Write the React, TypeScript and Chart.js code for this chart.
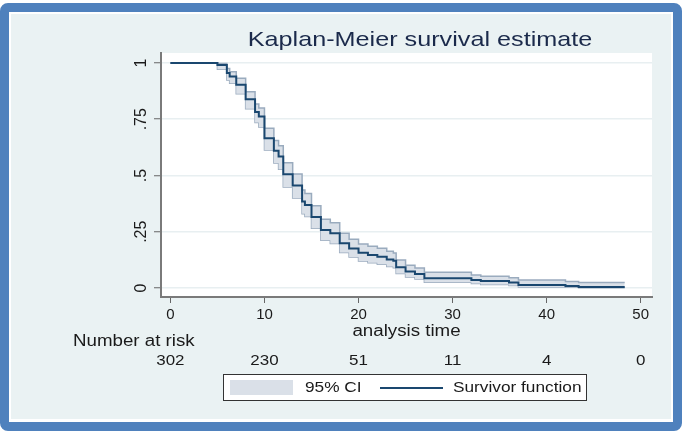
import React, { useEffect, useRef } from "react";
import { Chart, registerables } from "chart.js";

Chart.register(...registerables);

// ---- data ----
const times = [0, 5, 6, 6.3, 7, 8, 9, 9.4, 10, 11, 11.5, 12, 13, 14, 14.3, 15, 16, 17, 18, 19, 20, 21, 22, 23, 23.7, 24, 25, 26, 27, 32, 33, 36, 37, 42, 43.4, 48.3];
const survival = [1, 0.991, 0.955, 0.94, 0.903, 0.839, 0.782, 0.762, 0.665, 0.61, 0.584, 0.505, 0.455, 0.384, 0.369, 0.315, 0.258, 0.243, 0.199, 0.176, 0.157, 0.147, 0.139, 0.127, 0.121, 0.092, 0.073, 0.062, 0.043, 0.036, 0.031, 0.024, 0.013, 0.009, 0.004, 0.004];
const lowerCI = [1, 0.972, 0.924, 0.91, 0.863, 0.797, 0.735, 0.716, 0.613, 0.556, 0.528, 0.449, 0.4, 0.33, 0.318, 0.265, 0.212, 0.198, 0.158, 0.138, 0.12, 0.112, 0.105, 0.095, 0.09, 0.064, 0.049, 0.04, 0.025, 0.02, 0.016, 0.011, 0.004, 0.003, 0.001, 0.001];
const upperCI = [1, 0.998, 0.975, 0.961, 0.932, 0.872, 0.818, 0.8, 0.71, 0.655, 0.632, 0.557, 0.507, 0.435, 0.42, 0.365, 0.305, 0.29, 0.243, 0.217, 0.196, 0.186, 0.177, 0.163, 0.156, 0.124, 0.101, 0.089, 0.07, 0.058, 0.052, 0.045, 0.036, 0.029, 0.024, 0.024];

const xTicks = [0, 10, 20, 30, 40, 50];
const yTicks = [0, 0.25, 0.5, 0.75, 1];
const yTickLabels = ["0", ".25", ".5", ".75", "1"];
const atRisk = [302, 230, 51, 11, 4, 0];

const titleText = "Kaplan-Meier survival estimate";
const xTitle = "analysis time";
const riskTitle = "Number at risk";
const legendCI = "95% CI";
const legendSurv = "Survivor function";

const FONT = "'Liberation Sans', Arial, Helvetica, sans-serif";
const NAVY = "#1a476f";
const BAND_FILL = "#dae0e8";
const BAND_EDGE = "#9aabbe";

function stretchedText(
  ctx: CanvasRenderingContext2D,
  text: string,
  x: number,
  y: number,
  size: number,
  color: string,
  align: CanvasTextAlign,
  sx: number
) {
  ctx.save();
  ctx.translate(x, y);
  ctx.scale(sx, 1);
  ctx.font = `${size}px ${FONT}`;
  ctx.fillStyle = color;
  ctx.textAlign = align;
  ctx.textBaseline = "middle";
  ctx.fillText(text, 0, 0);
  ctx.restore();
}

const decorPlugin = {
  id: "kmDecor",
  beforeDraw(chart: any) {
    const { ctx, chartArea } = chart;
    ctx.save();
    ctx.fillStyle = "#ffffff";
    ctx.fillRect(chartArea.left, chartArea.top, chartArea.right - chartArea.left, chartArea.bottom - chartArea.top);
    ctx.restore();
  },
  afterDraw(chart: any) {
    const { ctx, chartArea } = chart;
    const xs = chart.scales.x;
    // title
    stretchedText(ctx, titleText, 420, 40, 21, "#1b2a4b", "center", 1.2);
    // x title
    stretchedText(ctx, xTitle, (chartArea.left + chartArea.right) / 2, 332, 16, "#1a1a1a", "center", 1.17);
    // number at risk
    stretchedText(ctx, riskTitle, 73, 342, 16, "#1a1a1a", "left", 1.17);
    atRisk.forEach((n, i) => {
      stretchedText(ctx, String(n), xs.getPixelForValue(xTicks[i]), 361, 15, "#1a1a1a", "center", 1.13);
    });
    // legend
    ctx.save();
    ctx.fillStyle = "#ffffff";
    ctx.fillRect(223.5, 374.5, 363, 26);
    ctx.strokeStyle = "#333333";
    ctx.lineWidth = 1;
    ctx.strokeRect(223.5, 374.5, 363, 26);
    ctx.fillStyle = BAND_FILL;
    ctx.fillRect(230, 380, 63, 15);
    ctx.strokeStyle = NAVY;
    ctx.lineWidth = 2;
    ctx.beginPath();
    ctx.moveTo(380, 388);
    ctx.lineTo(443, 388);
    ctx.stroke();
    ctx.restore();
    stretchedText(ctx, legendCI, 305, 388, 15, "#1a1a1a", "left", 1.15);
    stretchedText(ctx, legendSurv, 453, 388, 15, "#1a1a1a", "left", 1.15);
  },
};

export default function App() {
  const canvasRef = useRef<HTMLCanvasElement | null>(null);

  useEffect(() => {
    const canvas = canvasRef.current;
    if (!canvas) return;
    const pts = (vals: number[]) => times.map((t, i) => ({ x: t, y: vals[i] }));
    const chart = new Chart(canvas, {
      type: "line",
      data: {
        datasets: [
          {
            label: "Survivor function",
            data: pts(survival),
            borderColor: NAVY,
            borderWidth: 2,
            pointRadius: 0,
            stepped: "before",
            fill: false,
            order: 0,
          },
          {
            label: "Upper",
            data: pts(upperCI),
            borderColor: BAND_EDGE,
            backgroundColor: BAND_FILL,
            borderWidth: 1.5,
            pointRadius: 0,
            stepped: "before",
            fill: "+1",
            order: 1,
          },
          {
            label: "Lower",
            data: pts(lowerCI),
            borderColor: BAND_EDGE,
            borderWidth: 1.5,
            pointRadius: 0,
            stepped: "before",
            fill: false,
            order: 2,
          },
        ],
      },
      options: {
        responsive: false,
        animation: false,
        devicePixelRatio: 1,
        layout: { padding: { left: 0, right: 33, top: 53, bottom: 0 } },
        plugins: {
          legend: { display: false },
          title: { display: false },
          tooltip: { enabled: false },
        },
        scales: {
          x: {
            type: "linear",
            min: -1,
            max: 51.2,
            afterBuildTicks: (s: any) => {
              s.ticks = xTicks.map((v) => ({ value: v }));
            },
            afterFit: (s: any) => {
              s.height = 431 - 297;
            },
            grid: {
              drawOnChartArea: false,
              drawTicks: true,
              tickLength: 6,
              tickColor: "#666666",
              tickWidth: 1,
            },
            border: { color: "#7a7a7a", width: 2 },
            ticks: {
              maxRotation: 0,
              minRotation: 0,
              padding: 3,
              color: "#1a1a1a",
              font: { family: FONT, size: 15 },
              callback: (v: any) => String(v),
            },
          },
          y: {
            type: "linear",
            min: -0.04,
            max: 1.0444,
            afterBuildTicks: (s: any) => {
              s.ticks = yTicks.map((v) => ({ value: v }));
            },
            afterFit: (s: any) => {
              s.width = 161;
            },
            grid: {
              color: "#e8eff1",
              lineWidth: 1.5,
              drawTicks: true,
              tickLength: 7,
              tickColor: "#666666",
              tickWidth: 1,
            },
            border: { color: "#7a7a7a", width: 2 },
            ticks: {
              minRotation: 90,
              maxRotation: 90,
              crossAlign: "center",
              padding: 1,
              color: "#1a1a1a",
              font: { family: FONT, size: 16 },
              callback: (v: any) => {
                const i = yTicks.indexOf(Number(v));
                return i >= 0 ? yTickLabels[i] : "";
              },
            },
          },
        },
      },
      plugins: [decorPlugin],
    });
    return () => chart.destroy();
  }, []);

  return (
    <div style={{ position: "fixed", left: 0, top: 0, width: 685, height: 431, background: "#ffffff", overflow: "hidden" }}>
      <div
        style={{
          position: "absolute",
          left: 0,
          top: 3,
          width: 682,
          height: 428,
          boxSizing: "border-box",
          border: "9px solid #4f81bd",
          borderRadius: 8,
          background: "#ffffff",
        }}
      />
      <div style={{ position: "absolute", left: 11, top: 14, width: 660, height: 405, background: "#eaf2f3" }} />
      <canvas
        ref={canvasRef}
        width={685}
        height={431}
        style={{ position: "absolute", left: 0, top: 0, width: 685, height: 431 }}
      />
    </div>
  );
}
